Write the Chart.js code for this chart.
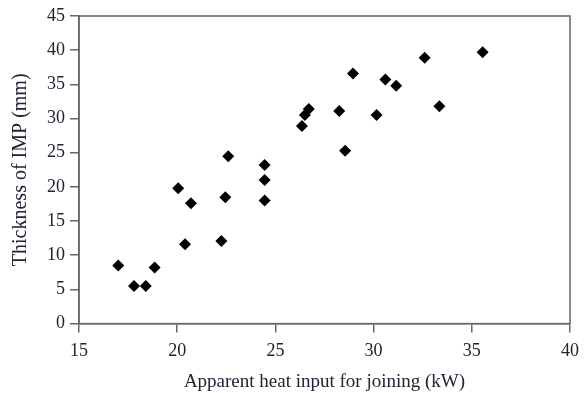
<!DOCTYPE html>
<html>
<head>
<meta charset="utf-8">
<script src="https://cdn.jsdelivr.net/npm/chart.js@4/dist/chart.umd.min.js"></script>
<style>
  html, body { margin: 0; padding: 0; background: #fff; }
  #wrap { width: 587px; height: 393px; }
</style>
</head>
<body>
<div id="wrap"><canvas id="chart"></canvas></div>
<script>
// heat input (kW) and IMP thickness (mm)
var heatInput = [17.0, 17.8, 18.4, 18.85, 20.05, 20.7, 20.4, 22.45, 22.25, 24.45, 24.45, 24.45, 22.6,
                 26.35, 26.5, 26.7, 28.95, 28.25, 28.55, 30.15, 30.6, 31.15, 32.6, 33.35, 35.55];
var thickness = [8.5, 5.5, 5.5, 8.2, 19.8, 17.6, 11.6, 18.5, 12.1, 18.0, 21.0, 23.2, 24.5,
                 28.9, 30.5, 31.4, 36.6, 31.1, 25.3, 30.5, 35.7, 34.8, 38.9, 31.8, 39.7];

var xTicks = [15, 20, 25, 30, 35, 40];
var yTicks = [0, 5, 10, 15, 20, 25, 30, 35, 40, 45];

var axisColor = '#666';
var textColor = '#222233';
var serif = '"Liberation Serif", "Times New Roman", serif';

var points = heatInput.map(function (x, i) {
    return { x: x, y: thickness[i] };
});

// box round the plot area, like the original
var framePlugin = {
    id: 'frame',
    afterDraw: function (chart) {
        var a = chart.chartArea;
        var ctx = chart.ctx;
        ctx.save();
        ctx.strokeStyle = axisColor;
        ctx.lineWidth = 1.5;
        ctx.strokeRect(a.left, a.top, a.right - a.left, a.bottom - a.top);
        ctx.restore();
    }
};

new Chart(document.getElementById('chart').getContext('2d'), {
    type: 'scatter',
    data: {
        datasets: [{
            data: points,
            pointStyle: 'rectRot',
            pointRadius: 6,
            pointHoverRadius: 6,
            backgroundColor: '#000',
            borderColor: '#000',
            borderWidth: 0
        }]
    },
    options: {
        responsive: true,
        maintainAspectRatio: false,
        animation: false,
        layout: { padding: { top: 16, right: 12, left: 9, bottom: 0 } },
        plugins: {
            legend: { display: false },
            tooltip: { enabled: false }
        },
        scales: {
            x: {
                type: 'linear',
                min: xTicks[0],
                max: xTicks[xTicks.length - 1],
                afterBuildTicks: function (axis) {
                    axis.ticks = xTicks.map(function (v) { return { value: v }; });
                },
                grid: {
                    drawOnChartArea: false,
                    drawTicks: true,
                    tickLength: 9,
                    color: axisColor,
                    lineWidth: 1.5
                },
                border: { display: true, color: axisColor, width: 1.5 },
                ticks: {
                    color: textColor,
                    padding: 8,
                    maxRotation: 0,
                    font: { family: serif, size: 18 }
                },
                title: {
                    display: true,
                    text: 'Apparent heat input for joining (kW)',
                    color: textColor,
                    padding: { top: 0, bottom: 0 },
                    font: { family: serif, size: 19 }
                }
            },
            y: {
                type: 'linear',
                min: yTicks[0],
                max: yTicks[yTicks.length - 1],
                afterBuildTicks: function (axis) {
                    axis.ticks = yTicks.map(function (v) { return { value: v }; });
                },
                grid: {
                    drawOnChartArea: false,
                    drawTicks: true,
                    tickLength: 9,
                    color: axisColor,
                    lineWidth: 1.5
                },
                border: { display: true, color: axisColor, width: 1.5 },
                ticks: {
                    color: textColor,
                    padding: 5,
                    font: { family: serif, size: 18 }
                },
                title: {
                    display: true,
                    text: 'Thickness of IMP (mm)',
                    color: textColor,
                    padding: { top: 0, bottom: 9 },
                    font: { family: serif, size: 20 }
                }
            }
        }
    },
    plugins: [framePlugin]
});
</script>
</body>
</html>
